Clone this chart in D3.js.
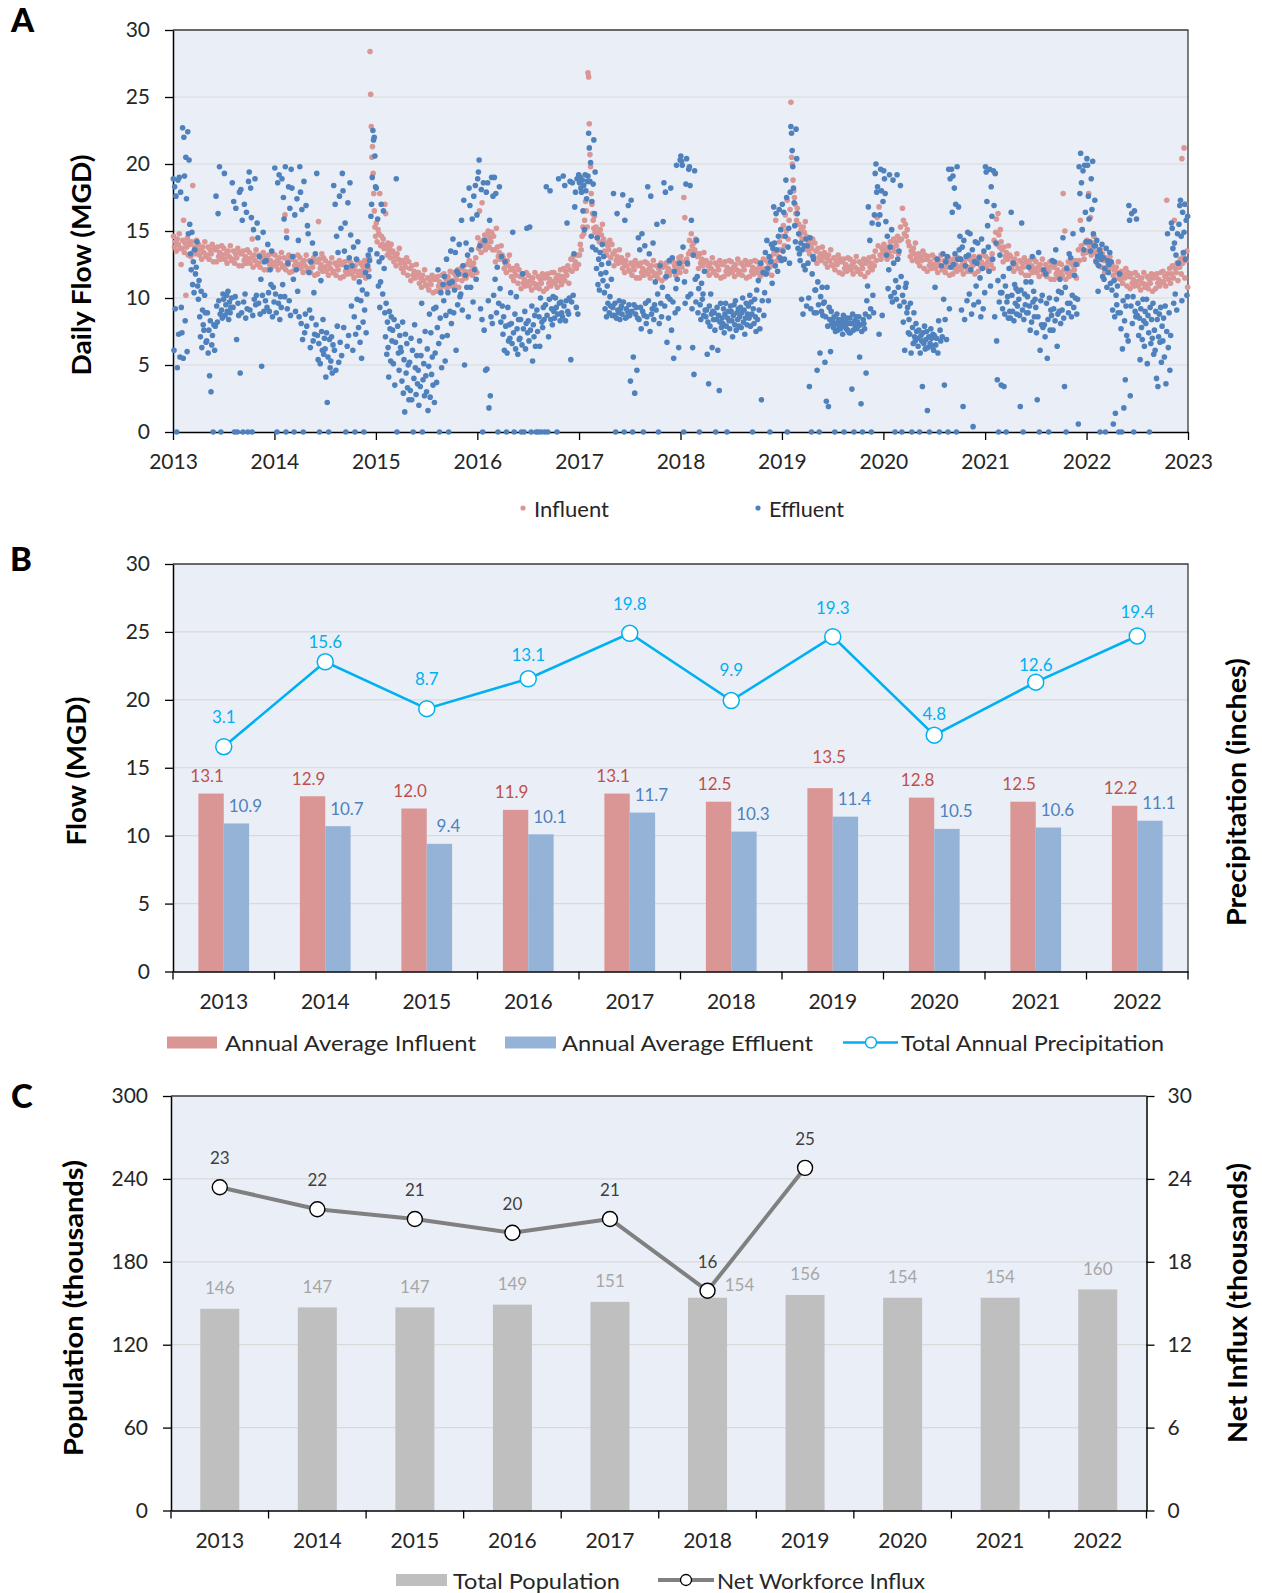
<!DOCTYPE html>
<html>
<head>
<meta charset="utf-8">
<script src="https://cdn.jsdelivr.net/npm/d3@7"></script>
<style>
  body { margin: 0; background: #fff; }
  svg { display: block; }
</style>
</head>
<body>
<svg id="chart" width="1262" height="1593"></svg>
<script>
// ---------------------------------------------------------------
// Data
// ---------------------------------------------------------------
const years = [2013, 2014, 2015, 2016, 2017, 2018, 2019, 2020, 2021, 2022];
const dailyTickYears = [2013, 2014, 2015, 2016, 2017, 2018, 2019, 2020, 2021, 2022, 2023];
const flowTicks = [0, 5, 10, 15, 20, 25, 30];
const populationTicks = [0, 60, 120, 180, 240, 300];
const influxTicks = [0, 6, 12, 18, 24, 30];

// Annual averages (MGD) and total precipitation (inches)
const influentAvg = [13.1, 12.9, 12.0, 11.9, 13.1, 12.5, 13.5, 12.8, 12.5, 12.2];
const effluentAvg = [10.9, 10.7, 9.4, 10.1, 11.7, 10.3, 11.4, 10.5, 10.6, 11.1];
const precipitation = [3.1, 15.6, 8.7, 13.1, 19.8, 9.9, 19.3, 4.8, 12.6, 19.4];

// Population (thousands) and net workforce influx (thousands)
const population = [146, 147, 147, 149, 151, 154, 156, 154, 154, 160];
const workforceInflux = [23.4, 21.8, 21.1, 20.1, 21.1, 15.9, 24.8, null, null, null];

// Daily influent flow (MGD): one list of readings per month
const influent2013 = [
  [14.6,13.8,14.2,13.5,14.4,14.0,14.8,13.7,12.5],
  [13.7,14.3,15.8,13.4,14.1,10.2,13.8,14.5,13.2,14.2],
  [14.0,13.1,14.2,18.4,13.5,13.8,13.3,14.3,13.6],
  [14.0,13.2,13.6,12.9,13.8,13.4,14.2,13.1],
  [13.2,13.8,12.9,13.6,13.3,14.0,12.7,13.7],
  [13.6,12.7,13.8,13.1,13.4,12.9,13.9,13.2],
  [13.7,12.9,13.3,12.6,13.5,13.1,13.9,12.8],
  [12.9,13.5,12.6,13.3,13.0,13.7,12.4,13.4],
  [13.3,12.4,13.5,12.8,13.1,12.6,13.6,12.9],
  [13.4,12.6,13.0,14.4,12.3,13.2,12.8,13.6,12.5],
  [12.6,13.2,12.3,13.0,12.7,13.4,12.1,13.1],
  [13.0,12.1,13.2,12.5,12.8,12.3,13.3,12.6]];
const influent2014 = [
  [13.2,12.4,12.8,12.1,13.0,12.6,13.4,12.3],
  [12.4,13.0,16.2,12.1,15.0,12.8,12.5,13.2,11.9,12.9],
  [12.9,12.0,13.1,12.4,12.7,12.2,13.2,12.5],
  [13.0,12.2,12.6,11.9,12.8,12.4,13.2,12.1],
  [12.2,12.8,11.9,12.6,12.3,13.0,11.7,12.7],
  [12.7,11.8,15.7,12.9,12.2,12.5,13.3,12.0,13.0,12.3],
  [12.8,12.0,12.4,11.7,12.6,12.2,13.0,11.9],
  [12.0,12.6,11.7,12.4,12.1,12.8,11.5,12.5],
  [12.5,11.6,12.7,12.0,12.3,11.8,12.8,12.1],
  [12.6,11.8,12.2,11.5,12.4,12.0,12.8,11.7],
  [12.0,12.6,11.7,12.4,12.1,12.8,11.5,12.5],
  [12.4,12.9,12.1,13.0,28.4,25.2,22.8,20.5,21.3,19.3,17.8,16.5,15.3,14.6]];
const influent2015 = [
  [15.6,14.2,15.1,14.8,17.8,13.9,14.6,14.0,14.4,13.7],
  [17.0,16.3,13.9,13.2,14.1,13.5,13.8,13.0,14.0,13.4],
  [13.5,12.7,13.1,12.4,13.3,12.9,13.7,12.6],
  [12.2,12.8,11.9,12.6,12.3,13.0,11.7,12.7],
  [12.2,11.3,12.4,11.7,12.0,11.5,12.5,11.8],
  [11.9,11.1,11.5,10.8,11.7,11.3,12.1,11.0],
  [10.9,11.5,10.6,11.3,11.0,11.7,10.4,11.4],
  [11.4,10.5,11.6,10.9,11.2,10.7,11.7,11.0],
  [11.8,11.0,11.4,10.7,11.6,11.2,12.0,10.9],
  [11.3,11.9,11.0,11.7,11.4,12.1,10.8,11.8],
  [12.2,11.3,12.4,11.7,12.0,11.5,12.5,11.8],
  [12.8,12.0,12.4,11.7,12.6,12.2,13.0,11.9]];
const influent2016 = [
  [14.5,13.7,16.5,14.1,13.4,17.1,14.3,13.9,14.7,13.6],
  [14.1,14.7,15.0,13.8,14.5,14.2,14.9,13.6,14.6],
  [13.6,12.7,15.2,13.8,13.1,13.4,12.9,13.9,13.2],
  [13.0,12.2,12.6,11.9,12.8,12.4,13.2,12.1],
  [11.6,12.2,11.3,12.0,11.7,12.4,11.1,12.1],
  [11.6,10.7,11.8,11.1,11.4,10.9,11.9,11.2],
  [11.7,10.9,11.3,10.6,11.5,11.1,11.9,10.8],
  [11.0,11.6,10.7,11.4,11.1,11.8,10.5,11.5],
  [11.6,10.7,11.8,11.1,11.4,10.9,11.9,11.2],
  [11.9,11.1,11.5,10.8,11.7,11.3,12.1,11.0],
  [11.6,12.2,11.3,12.0,11.7,12.4,11.1,12.1],
  [12.9,12.0,13.1,12.4,12.7,12.2,13.2,12.5]];
const influent2017 = [
  [13.2,14.0,13.6,14.6,15.3,14.8,15.8,17.2,16.5,15.3],
  [26.8,26.5,23.0,20.7,19.8,17.8,17.0,16.3,15.8,15.2,16.1,14.9],
  [15.3,14.5,14.9,14.2,15.1,14.7,15.5,14.4],
  [13.5,14.1,13.2,13.9,13.6,14.3,13.0,14.0],
  [13.3,12.4,13.5,12.8,13.1,12.6,13.6,12.9],
  [13.0,12.2,12.6,11.9,12.8,12.4,13.2,12.1],
  [12.0,12.6,11.7,12.4,12.1,12.8,11.5,12.5],
  [12.4,11.5,12.6,11.9,12.2,11.7,12.7,12.0],
  [12.6,11.8,12.2,11.5,12.4,12.0,12.8,11.7],
  [11.8,12.4,11.5,12.2,11.9,12.6,11.3,12.3],
  [12.4,11.5,12.6,11.9,12.2,11.7,12.7,12.0],
  [12.8,12.0,12.4,11.7,12.6,12.2,13.0,11.9]];
const influent2018 = [
  [13.1,12.3,12.7,17.5,16.0,12.0,12.9,12.5,13.3],
  [14.3,13.5,14.8,13.9,13.2,14.1,13.6,14.4,13.3],
  [13.1,12.2,13.3,12.6,12.9,12.4,13.4,12.7],
  [12.8,12.0,12.4,11.7,12.6,12.2,13.0,11.9],
  [12.0,12.6,11.7,12.4,12.1,12.8,11.5,12.5],
  [12.5,11.6,12.7,12.0,12.3,11.8,12.8,12.1],
  [12.7,11.9,12.3,11.6,12.5,12.1,12.9,11.8],
  [12.0,12.6,11.7,12.4,12.1,12.8,11.5,12.5],
  [12.5,11.6,12.7,12.0,12.3,11.8,12.8,12.1],
  [12.7,11.9,12.3,11.6,12.5,12.1,12.9,11.8],
  [12.2,12.8,11.9,12.6,12.3,13.0,11.7,12.7],
  [13.3,12.4,15.8,13.5,12.8,13.1,14.2,13.6,12.9]];
const influent2019 = [
  [14.6,15.4,13.9,16.2,15.0,17.3,14.4,15.8,16.6],
  [24.6,20.5,20.0,18.8,18.0,17.5,17.0,16.3,15.8,16.7,15.5],
  [15.5,14.7,15.1,14.4,15.3,14.9,15.7,14.6],
  [13.6,14.2,13.3,14.0,13.7,14.4,13.1,14.1],
  [13.5,12.6,13.7,13.0,13.3,12.8,13.8,13.1],
  [13.4,12.6,13.0,12.3,13.2,12.8,13.6,12.5],
  [12.4,13.0,12.1,12.8,12.5,13.2,11.9,12.9],
  [12.7,11.8,12.9,12.2,12.5,12.0,13.0,12.3],
  [12.9,12.1,12.5,11.8,12.7,12.3,13.1,12.0],
  [12.1,12.7,11.8,12.5,12.2,12.9,11.6,12.6],
  [12.8,11.9,13.0,12.3,12.6,12.1,13.1,12.4],
  [13.5,12.8,16.0,13.9,16.8,13.2,12.9,13.7,13.4]];
const influent2020 = [
  [14.0,13.2,13.6,12.9,13.8,13.4,14.2,13.1],
  [13.8,14.4,13.5,14.2,13.9,14.6,13.3,14.3],
  [15.3,14.4,16.7,15.8,14.8,15.5,14.6,15.1,14.2],
  [13.9,13.1,13.5,12.8,13.7,13.3,14.1,13.0],
  [12.7,13.3,12.4,13.1,12.8,13.5,12.2,13.2],
  [12.9,12.0,13.1,12.4,12.7,12.2,13.2,12.5],
  [13.0,12.2,12.6,11.9,12.8,12.4,13.2,12.1],
  [12.2,12.8,11.9,12.6,12.3,13.0,11.7,12.7],
  [12.7,11.8,12.9,12.2,12.5,12.0,13.0,12.3],
  [12.9,12.1,12.5,11.8,12.7,12.3,13.1,12.0],
  [12.3,12.9,12.0,12.7,12.4,13.1,11.8,12.8],
  [12.9,12.0,13.1,12.4,12.7,12.2,13.2,12.5]];
const influent2021 = [
  [13.1,12.3,12.7,12.0,12.9,12.5,13.3,12.2],
  [14.3,19.3,14.9,15.9,14.0,16.3,14.7,13.8,15.1,14.2],
  [13.6,12.7,13.8,13.1,13.4,12.9,13.9,13.2],
  [13.1,12.3,12.7,12.0,12.9,12.5,13.3,12.2],
  [12.2,12.8,11.9,12.6,12.3,13.0,11.7,12.7],
  [12.6,11.7,12.8,12.1,12.4,11.9,12.9,12.2],
  [12.7,11.9,12.3,11.6,12.5,12.1,12.9,11.8],
  [11.9,12.5,11.6,12.3,12.0,12.7,11.4,12.4],
  [12.3,11.4,12.5,11.8,12.1,11.6,12.6,11.9],
  [12.5,11.7,17.8,12.1,15.0,11.4,12.3,11.9,12.7,11.6],
  [12.0,12.6,11.7,12.4,12.1,12.8,11.5,12.5],
  [13.6,12.8,15.8,13.9,15.1,13.3,12.9,14.1,13.4]];
const influent2022 = [
  [14.3,13.5,17.8,13.9,16.0,13.2,14.1,13.7,14.6,13.4],
  [12.8,13.4,12.5,13.2,12.9,13.6,12.3,13.3],
  [12.8,11.9,13.0,12.3,12.6,12.1,13.1,12.4],
  [12.5,11.7,12.1,11.4,12.3,11.9,12.7,11.6],
  [11.4,12.0,11.1,11.8,11.5,12.2,10.9,11.9],
  [11.6,10.7,11.8,11.1,11.4,10.9,11.9,11.2],
  [11.7,10.9,11.3,10.6,11.5,11.1,11.9,10.8],
  [11.0,11.6,10.7,11.4,11.1,11.8,10.5,11.5],
  [11.6,10.7,11.8,11.1,11.4,10.9,11.9,11.2],
  [12.0,11.2,11.6,10.9,17.3,11.8,11.4,12.2,11.1],
  [11.8,12.4,11.5,15.8,12.2,11.9,12.6,11.3,12.3],
  [12.3,12.9,11.8,20.4,12.6,13.2,21.2,11.5,17.0,12.8,13.5,10.8]];

// Daily effluent flow (MGD): one list of readings per month
const effluent2013 = [
  [18.9,6.1,18.3,9.2,17.6,0,4.8,18.8,7.3,19.0,5.6,17.9,9.3],
  [7.4,22.7,5.5,22.0,19.1,8.3,20.5,17.4,6.0,22.4,14.8,20.3],
  [15.5,13.3,12.1,14.9,11.0,12.7,10.4,13.6,11.8,12.3,14.2,10.9],
  [9.9,11.3,8.6,7.1,10.5,6.3,9.1,8.0,7.6,10.2,8.9,6.7],
  [6.8,8.9,5.9,7.6,4.2,8.3,3.0,6.5,7.2,0,8.0,6.1],
  [7.9,17.6,9.4,8.2,16.3,9.8,19.8,8.8,0,9.1,8.5,10.3],
  [9.9,19.3,8.7,9.5,10.2,9.0,10.5,8.4,9.7,8.9,9.3,10.0],
  [18.6,9.3,17.2,0,10.1,16.7,6.9,0,9.6,8.7,17.9,4.4],
  [18.1,8.9,15.8,0,9.7,17.0,10.3,8.5,16.4,9.2,0,18.7],
  [19.4,9.1,18.2,16.0,0,8.7,15.1,9.9,18.9,9.5,10.2,15.6],
  [14.5,9.6,13.1,8.8,11.4,4.9,10.2,14.9,9.0,12.7,9.8],
  [12.8,9.3,14.0,10.4,9.0,12.1,11.0,13.5,8.6,10.8,9.7]];
const effluent2014 = [
  [19.7,10.3,8.9,0,18.6,9.6,19.2,8.4,10.1,9.3,18.9,11.0],
  [17.5,15.9,10.1,19.8,0,14.5,9.2,12.6,18.3,9.8,16.7,8.7],
  [19.6,18.2,13.1,11.4,0,16.2,9.0,12.1,17.4,10.5,14.3,8.6],
  [19.8,17.9,8.1,16.6,6.9,0,18.7,7.4,8.8,16.9,7.9,15.4],
  [14.8,11.9,9.1,6.3,12.7,8.5,14.1,6.8,10.4,7.3,13.3,8.0],
  [19.3,7.2,5.4,6.6,0,5.1,11.3,7.5,6.1,8.4,5.8,7.0],
  [6.2,4.1,7.4,2.2,5.6,0,6.9,4.8,5.3,7.1,4.4,6.5],
  [18.4,6.1,17.0,4.6,14.6,7.9,13.4,5.2,17.6,6.7,15.2,5.7],
  [19.3,18.0,7.8,13.5,15.6,0,12.3,6.4,17.1,7.2,13.0,18.6],
  [14.7,9.4,12.4,6.1,13.8,8.6,0,7.3,12.9,9.9,14.2,7.8],
  [11.2,6.7,9.8,5.5,10.6,8.2,0,9.1,11.9,7.4,10.3],
  [12.4,13.2,11.6,12.8,13.6,16.1,17.0,19.0,22.5,21.8,22.0,20.6,18.3]];
const effluent2015 = [
  [18.2,13.3,15.9,10.9,12.7,9.3,11.2,17.0,13.0,10.3,16.5,12.2],
  [8.9,7.1,9.6,5.8,8.2,6.3,4.1,9.0,7.7,5.3,8.6,6.8],
  [7.6,5.1,8.4,3.5,6.7,18.9,0,7.9,5.9,4.6,7.2,6.3],
  [6.0,3.8,8.2,2.9,5.4,1.5,7.3,4.4,6.6,3.3,5.0,2.4],
  [5.2,3.1,7.0,2.4,6.1,0,4.0,8.0,4.8,2.8,5.7,3.6],
  [4.6,2.0,6.8,3.4,5.7,9.6,0,3.9,5.1,2.7,7.5,4.2],
  [3.0,6.2,1.6,4.9,8.8,2.6,7.4,4.3,5.6,3.5,9.2,2.2],
  [5.9,9.3,3.7,7.8,12.1,6.6,0,8.5,10.4,4.8,7.1,11.0],
  [9.8,11.6,5.3,8.7,12.9,7.2,10.4,0,11.1,9.0,13.5,8.1],
  [11.2,14.4,8.9,10.6,13.4,6.1,12.0,9.5,11.8,14.0,10.1],
  [10.3,15.8,9.1,12.4,17.3,5.0,11.7,14.1,10.8,13.2,8.6],
  [18.2,16.9,10.8,13.6,15.9,9.7,17.6,12.1,18.4,11.4,16.2]];
const effluent2016 = [
  [18.9,19.4,20.3,13.9,9.2,18.1,8.4,0,18.6,7.6,14.3,4.6],
  [17.9,4.7,18.6,9.8,1.8,15.8,2.7,8.6,19.0,8.1,17.6,10.2],
  [19.0,11.4,17.8,8.9,12.3,0,9.6,18.3,10.7,8.2,13.1,9.4],
  [7.3,8.6,6.1,12.7,7.9,0,5.9,9.3,6.8,8.0,7.0,10.4],
  [8.1,6.6,14.9,7.4,0,8.8,6.2,10.1,7.7,5.8,8.4,6.9],
  [7.0,8.4,0,6.5,11.8,7.7,0,9.0,6.2,8.1,15.2,7.4],
  [8.3,6.8,15.3,7.6,0,9.4,5.3,8.0,7.1,8.7,6.4,0],
  [9.1,7.5,0,8.6,6.4,10.0,0,8.2,7.8,9.3,8.4,0],
  [9.5,18.3,8.7,0,7.1,9.9,18.0,8.4,9.2,8.0,10.1],
  [9.0,8.5,10.0,9.3,0,8.8,18.9,9.6,8.3,9.7,8.9],
  [8.6,19.1,9.4,18.4,8.3,9.8,15.6,9.0,8.8,10.0,18.7],
  [5.4,9.7,18.6,10.2,13.3,16.8,17.9,9.3,18.9,8.8,19.2]];
const effluent2017 = [
  [18.6,19.0,18.2,17.9,18.8,16.5,18.4,15.1,19.2,18.0,17.4,18.7],
  [19.1,22.3,21.2,18.7,20.1,14.6,17.2,13.8,18.5,21.8,16.3,19.4],
  [13.6,12.2,14.5,11.0,12.9,10.6,13.4,11.8,12.5,14.0,11.3,13.1],
  [10.4,9.2,11.9,8.6,10.9,9.6,12.6,8.9,10.1,9.4,11.4,8.7],
  [9.3,17.8,8.7,9.6,0,8.5,16.3,9.1,8.9,9.8,8.4,9.2],
  [9.4,8.8,17.7,9.7,0,15.8,8.5,9.2,8.6,9.0,16.9,9.5],
  [8.7,3.8,17.3,9.0,0,5.6,9.5,2.9,8.8,9.3,4.6,8.5],
  [14.5,8.4,13.6,9.3,7.7,14.8,9.0,0,8.7,13.9,9.6,8.1],
  [8.6,18.3,9.8,13.3,7.5,17.6,8.8,9.2,14.1,8.4,9.5],
  [11.2,9.1,15.5,10.3,0,8.1,12.4,9.6,8.6,10.8,15.7],
  [18.6,9.4,17.9,11.6,6.7,10.1,8.5,12.8,9.9,18.2,7.6],
  [13.0,9.7,5.5,12.0,8.9,10.7,19.9,11.4,9.2,6.3,12.6,20.3]];
const effluent2018 = [
  [20.6,20.2,19.9,13.8,0,11.2,9.6,18.5,20.4,12.6,10.1,19.6],
  [19.8,18.4,10.3,15.8,9.2,6.3,13.2,4.3,19.5,11.4,9.7,14.3],
  [11.6,8.9,10.7,0,9.5,8.4,11.1,9.9,10.3,8.7,12.0,9.1],
  [8.6,9.1,5.8,8.2,3.6,9.4,7.9,10.3,8.8,6.3,9.0,8.4],
  [8.9,7.6,0,8.4,9.3,6.1,8.7,3.1,8.2,9.6,7.8,8.5],
  [8.1,9.2,7.4,8.8,9.6,7.9,0,8.5,9.0,8.3,7.7,9.4],
  [9.0,8.3,7.1,8.7,9.5,8.0,9.8,7.6,8.9,8.4,9.2,7.9],
  [8.6,9.3,7.8,8.9,10.0,8.2,9.1,7.3,8.5,9.6,8.0,8.8],
  [9.4,8.5,10.2,7.9,9.7,8.8,0,9.2,8.1,9.9,8.6,7.5],
  [10.6,8.4,11.3,9.1,7.7,12.6,2.4,9.8,11.9,8.7,10.4],
  [13.4,11.8,14.3,12.2,9.8,13.1,0,12.7,14.0,11.1,13.7],
  [16.8,14.1,12.4,16.3,13.6,12.0,14.6,16.6,13.0,15.1,12.8]];
const effluent2019 = [
  [17.0,13.5,16.4,12.9,14.6,18.8,17.5,0,13.8,15.2,12.6,17.9],
  [22.8,22.3,21.0,19.8,18.2,17.1,15.4,14.2,22.6,20.4,16.3,13.7],
  [14.8,13.3,12.8,14.1,9.9,13.6,8.8,12.4,13.9,12.1,14.4,9.4],
  [13.9,12.6,10.0,3.4,14.5,9.2,0,11.8,13.1,12.9,8.9,10.6],
  [10.6,8.9,4.6,11.2,9.5,0,5.9,10.1,9.0,10.8,8.7,9.6],
  [9.7,5.2,8.6,2.3,10.8,7.9,1.9,9.3,8.4,6.0,9.0,8.1],
  [8.3,7.8,8.6,0,7.5,8.1,8.8,7.6,8.4,7.9,8.2,7.7],
  [8.0,8.4,7.3,8.7,0,7.9,8.2,7.7,8.5,7.6,8.1,7.4],
  [8.5,7.4,8.1,3.2,8.8,7.6,0,8.3,7.9,8.6,7.7,8.2],
  [7.9,8.6,5.6,8.0,2.1,7.5,0,8.4,8.1,7.7,8.8,4.4],
  [9.8,10.9,16.8,8.6,14.3,9.2,0,15.6,10.2,8.9,16.2],
  [19.3,20.0,17.9,18.3,15.5,7.3,16.2,19.6,18.0,8.7,17.2]];
const effluent2020 = [
  [19.5,18.9,17.8,15.7,13.2,14.6,10.7,12.1,19.2,13.8,10.1,15.1],
  [9.7,18.8,12.6,10.4,0,11.3,9.9,19.2,12.9,10.8,13.5,9.4],
  [18.4,11.6,0,10.2,8.2,9.7,6.1,10.8,11.1,8.9,9.3,7.4],
  [8.4,7.3,9.6,5.9,0,7.8,6.6,8.9,7.1,6.8,8.1,7.5],
  [7.0,6.4,7.6,0,5.9,7.2,6.8,3.4,7.4,6.6,7.9,6.2],
  [6.9,7.5,1.6,6.3,7.1,0,6.6,7.7,7.0,6.4,7.3,6.1],
  [7.2,10.8,6.5,7.0,12.9,5.9,8.3,0,7.6,6.8,12.4,7.1],
  [13.3,9.9,3.5,8.4,12.7,6.9,13.1,0,19.6,9.2,18.9,12.3],
  [19.6,16.4,19.1,12.5,18.2,13.3,17.0,0,19.8,12.9,16.8,13.6],
  [14.6,12.9,9.1,13.8,1.9,14.3,8.4,12.4,13.1,9.8,14.9],
  [13.2,10.3,14.8,12.1,8.8,13.6,0.4,9.5,12.7,14.2,10.9],
  [12.6,14.1,9.7,13.0,11.5,8.6,14.4,12.2,9.2,13.5,10.4]];
const effluent2021 = [
  [19.8,19.4,17.2,15.4,13.8,12.0,19.6,10.9,18.3,16.1,12.9,19.5],
  [16.9,8.6,19.3,14.1,6.8,3.9,11.3,0,9.7,13.2,10.4,3.5],
  [10.4,9.2,11.6,3.4,8.8,10.9,0,9.7,10.1,8.5,12.2,9.0],
  [8.5,16.4,10.2,9.0,12.6,8.3,11.0,9.6,10.7,8.8,9.4,10.5],
  [9.9,8.7,1.9,10.6,15.6,9.1,0,8.4,10.3,9.5,11.2,8.9],
  [10.1,8.9,12.3,9.4,7.6,11.2,8.2,13.1,9.7,10.5,8.6,9.9],
  [9.3,7.4,2.4,8.6,13.4,0,6.1,9.8,8.0,10.2,7.8,12.1],
  [8.0,7.1,11.8,9.6,5.5,8.4,0,10.0,7.6,9.1,8.7,12.8],
  [7.6,9.2,12.7,8.3,13.6,9.9,6.4,8.8,10.5,9.0,11.4,8.1],
  [10.4,9.1,14.5,8.5,3.4,10.8,0,12.2,9.6,8.9,13.3],
  [9.6,13.0,8.6,10.2,14.8,9.3,11.7,10.0,12.5,8.8,9.9],
  [0.6,19.8,17.8,20.8,18.6,15.1,19.5,13.6,19.9,16.4,14.2]];
const effluent2022 = [
  [20.4,19.9,17.6,15.9,14.2,13.5,18.9,16.6,20.2,14.8,13.9,17.3],
  [13.9,12.7,14.3,13.1,10.5,12.4,13.6,0,13.3,12.9,14.0,11.6],
  [13.0,11.4,12.2,0,13.7,10.8,12.8,11.9,12.5,13.4,11.1,12.7],
  [10.6,9.1,0.6,11.3,8.6,1.4,10.2,9.5,10.9,8.9,0,11.8],
  [8.9,7.7,0,6.2,9.8,1.8,8.3,3.9,9.4,7.2,10.1,6.8],
  [16.9,15.8,2.7,9.4,16.3,8.1,10.1,0,16.5,9.0,8.6,15.9],
  [8.7,9.6,7.2,8.5,5.4,9.2,7.8,6.9,9.9,8.3,6.4,9.0],
  [8.1,9.9,5.1,8.7,7.4,0,9.3,6.6,8.4,7.0,9.6,5.8],
  [7.6,6.1,9.0,4.0,8.4,3.4,7.1,8.8,6.7,9.3,5.2,7.9],
  [6.8,8.5,5.6,9.4,3.6,7.5,14.8,6.3,8.9,4.6,7.2],
  [15.6,15.2,13.7,9.6,14.1,10.3,13.2,9.1,14.8,12.6,15.5],
  [16.9,17.3,14.6,9.8,16.4,13.4,14.9,17.0,12.9,15.8,10.2,16.1]];

// ---------------------------------------------------------------
// Styling constants
// ---------------------------------------------------------------
const FONT = "Lato, 'Open Sans', sans-serif";
const BG = "#EAEFF7";
const GRID = "#D9D9D9";
const FRAME = "#3a3a3a";
const C_INF = "#DA9694";
const C_EFF_DOT = "#4F81BD";
const C_EFF_BAR = "#95B3D7";
const C_INF_LBL = "#C0504D";
const C_EFF_LBL = "#4F81BD";
const C_PRECIP = "#00B0F0";
const C_POP = "#BFBFBF";
const C_INFLUX = "#808080";

const svg = d3.select("#chart");

function styleAxis(g, size) {
  g.select(".domain").attr("stroke", "#000").attr("stroke-width", 1.5);
  g.selectAll(".tick line").attr("stroke", "#000").attr("stroke-width", 1.3);
  g.selectAll(".tick text")
    .attr("font-family", FONT).attr("font-size", size).attr("fill", "#262626");
}

function panelLetter(txt, x, y) {
  svg.append("text").attr("x", x).attr("y", y)
    .attr("font-family", FONT).attr("font-weight", 900).attr("font-size", 33)
    .attr("fill", "#000").text(txt);
}

function vTitle(txt, x, y, len) {
  svg.append("text")
    .attr("transform", `translate(${x},${y}) rotate(-90)`)
    .attr("text-anchor", "middle").attr("dominant-baseline", "central")
    .attr("font-family", FONT).attr("font-weight", 700).attr("font-size", 26)
    .attr("textLength", len).attr("lengthAdjust", "spacingAndGlyphs")
    .attr("fill", "#000").text(txt);
}

function legendText(txt, x, y, len) {
  svg.append("text").attr("x", x).attr("y", y)
    .attr("dominant-baseline", "central")
    .attr("font-family", FONT).attr("font-size", 21).attr("fill", "#262626")
    .attr("textLength", len).attr("lengthAdjust", "spacingAndGlyphs")
    .text(txt);
}

function plotFrame(g, x0, x1, top, bottom) {
  g.append("rect").attr("x", x0).attr("y", top)
    .attr("width", x1 - x0).attr("height", bottom - top).attr("fill", BG);
}

function gridLines(g, values, y, x0, x1) {
  g.append("g").selectAll("line").data(values).join("line")
    .attr("x1", x0).attr("x2", x1)
    .attr("y1", d => y(d)).attr("y2", d => y(d))
    .attr("stroke", GRID).attr("stroke-width", 1.2);
}

// Spread each month's readings evenly through that month
function dailySeries(pairs) {
  const pts = [];
  pairs.forEach(([yr, months]) => {
    months.forEach((vals, m) => {
      const start = new Date(yr, m, 1).getTime();
      const end = new Date(yr, m + 1, 1).getTime();
      const step = (end - start) / vals.length;
      vals.forEach((v, i) => pts.push({ date: new Date(start + (i + 0.5) * step), v }));
    });
  });
  return pts;
}

// ---------------------------------------------------------------
// Panel A: daily influent / effluent flow
// ---------------------------------------------------------------
const A = { x0: 173, x1: 1188, top: 30, bottom: 432 };
const xA = d3.scaleTime()
  .domain([new Date(2013, 0, 1), new Date(2023, 0, 1)])
  .range([A.x0, A.x1]);
const yA = d3.scaleLinear().domain([0, 30]).range([A.bottom, A.top]);

const influentDaily = dailySeries([
  [2013, influent2013], [2014, influent2014], [2015, influent2015], [2016, influent2016],
  [2017, influent2017], [2018, influent2018], [2019, influent2019], [2020, influent2020],
  [2021, influent2021], [2022, influent2022]
]);
const effluentDaily = dailySeries([
  [2013, effluent2013], [2014, effluent2014], [2015, effluent2015], [2016, effluent2016],
  [2017, effluent2017], [2018, effluent2018], [2019, effluent2019], [2020, effluent2020],
  [2021, effluent2021], [2022, effluent2022]
]);

const gA = svg.append("g");
plotFrame(gA, A.x0, A.x1, A.top, A.bottom);
gridLines(gA, [5, 10, 15, 20, 25], yA, A.x0, A.x1);
gA.append("path").attr("d", `M${A.x0},${A.top}H${A.x1}V${A.bottom}`)
  .attr("fill", "none").attr("stroke", FRAME).attr("stroke-width", 1.3);

const axAy = gA.append("g").attr("transform", `translate(${A.x0},0)`)
  .call(d3.axisLeft(yA).tickValues(flowTicks).tickSize(8).tickSizeOuter(0).tickPadding(15));
styleAxis(axAy, 21);
const axAx = gA.append("g").attr("transform", `translate(0,${A.bottom})`)
  .call(d3.axisBottom(xA).tickValues(dailyTickYears.map(y => new Date(y, 0, 1)))
    .tickSize(8).tickSizeOuter(0).tickFormat(d3.timeFormat("%Y")));
styleAxis(axAx, 21);
axAx.selectAll(".tick text").attr("y", 30).attr("dy", "0.35em");

gA.append("g").selectAll("circle").data(influentDaily).join("circle")
  .attr("cx", d => xA(d.date)).attr("cy", d => yA(d.v)).attr("r", 2.8)
  .attr("fill", C_INF);
gA.append("g").selectAll("circle").data(effluentDaily).join("circle")
  .attr("cx", d => xA(d.date)).attr("cy", d => yA(d.v)).attr("r", 2.8)
  .attr("fill", C_EFF_DOT);

// Legend A
svg.append("circle").attr("cx", 523).attr("cy", 508).attr("r", 2.6).attr("fill", C_INF);
legendText("Influent", 534, 508, 75);
svg.append("circle").attr("cx", 758).attr("cy", 508).attr("r", 2.6).attr("fill", C_EFF_DOT);
legendText("Effluent", 769, 508, 75);

panelLetter("A", 11, 32);
vTitle("Daily Flow (MGD)", 81, 265, 221);

// ---------------------------------------------------------------
// Panel B: annual averages and precipitation
// ---------------------------------------------------------------
const B = { x0: 173, x1: 1188, top: 564, bottom: 971.5 };
const xB = d3.scaleBand().domain(years).range([B.x0, B.x1]).paddingInner(0).paddingOuter(0);
const yB = d3.scaleLinear().domain([0, 30]).range([B.bottom, B.top]);
const yPrecip = d3.scaleLinear().domain([-30, 30]).range([B.bottom, B.top]);
const bwB = xB.bandwidth();

const gB = svg.append("g");
plotFrame(gB, B.x0, B.x1, B.top, B.bottom);
gridLines(gB, [5, 10, 15, 20, 25], yB, B.x0, B.x1);
gB.append("path").attr("d", `M${B.x0},${B.top}H${B.x1}V${B.bottom}`)
  .attr("fill", "none").attr("stroke", FRAME).attr("stroke-width", 1.3);

const rowsB = years.map((yr, i) => ({
  yr, inf: influentAvg[i], eff: effluentAvg[i], p: precipitation[i]
}));

gB.append("g").selectAll("rect").data(rowsB).join("rect")
  .attr("x", d => xB(d.yr) + bwB * 0.25).attr("width", bwB * 0.25)
  .attr("y", d => yB(d.inf)).attr("height", d => yB(0) - yB(d.inf))
  .attr("fill", C_INF);
gB.append("g").selectAll("rect").data(rowsB).join("rect")
  .attr("x", d => xB(d.yr) + bwB * 0.5).attr("width", bwB * 0.25)
  .attr("y", d => yB(d.eff)).attr("height", d => yB(0) - yB(d.eff))
  .attr("fill", C_EFF_BAR);

const axBy = gB.append("g").attr("transform", `translate(${B.x0},0)`)
  .call(d3.axisLeft(yB).tickValues(flowTicks).tickSize(8).tickSizeOuter(0).tickPadding(15));
styleAxis(axBy, 21);
const axBx = gB.append("g").attr("transform", `translate(0,${B.bottom})`)
  .call(d3.axisBottom(xB).tickSize(0).tickSizeOuter(0));
styleAxis(axBx, 21);
axBx.selectAll(".tick text").attr("y", 30.5).attr("dy", "0.35em");
gB.append("g").selectAll("line").data(d3.range(years.length + 1)).join("line")
  .attr("x1", i => B.x0 + i * xB.step()).attr("x2", i => B.x0 + i * xB.step())
  .attr("y1", B.bottom).attr("y2", B.bottom + 8)
  .attr("stroke", "#000").attr("stroke-width", 1.3);

// Bar value labels
const fmt1 = d3.format(".1f");
const infLabelNudge = { 2019: { dx: 13, dy: -14 } };
gB.append("g").selectAll("text").data(rowsB).join("text")
  .attr("x", d => xB(d.yr) + bwB * 0.375 - 4 + (infLabelNudge[d.yr] ? infLabelNudge[d.yr].dx : 0))
  .attr("y", d => yB(d.inf) - 18 + (infLabelNudge[d.yr] ? infLabelNudge[d.yr].dy : 0))
  .attr("text-anchor", "middle").attr("dominant-baseline", "central")
  .attr("font-family", FONT).attr("font-size", 17).attr("fill", C_INF_LBL)
  .text(d => fmt1(d.inf));
gB.append("g").selectAll("text").data(rowsB).join("text")
  .attr("x", d => xB(d.yr) + bwB * 0.625 + 9)
  .attr("y", d => yB(d.eff) - 18)
  .attr("text-anchor", "middle").attr("dominant-baseline", "central")
  .attr("font-family", FONT).attr("font-size", 17).attr("fill", C_EFF_LBL)
  .text(d => fmt1(d.eff));

// Precipitation line on its own (unlabelled) secondary scale
const precipLabelDy = [-30, -20, -30, -24, -30, -31, -29, -22, -18, -24];
const cxB = d => xB(d.yr) + bwB / 2;
gB.append("path").datum(rowsB)
  .attr("d", d3.line().x(cxB).y(d => yPrecip(d.p)))
  .attr("fill", "none").attr("stroke", C_PRECIP).attr("stroke-width", 2.6);
gB.append("g").selectAll("circle").data(rowsB).join("circle")
  .attr("cx", cxB).attr("cy", d => yPrecip(d.p)).attr("r", 8)
  .attr("fill", "#fff").attr("stroke", C_PRECIP).attr("stroke-width", 1.5);
gB.append("g").selectAll("text").data(rowsB).join("text")
  .attr("x", cxB).attr("y", (d, i) => yPrecip(d.p) + precipLabelDy[i])
  .attr("text-anchor", "middle").attr("dominant-baseline", "central")
  .attr("font-family", FONT).attr("font-size", 17).attr("fill", C_PRECIP)
  .text(d => fmt1(d.p));

// Legend B
svg.append("rect").attr("x", 167).attr("y", 1036.5).attr("width", 50).attr("height", 12).attr("fill", C_INF);
legendText("Annual Average Influent", 225, 1042.5, 251);
svg.append("rect").attr("x", 505).attr("y", 1036.5).attr("width", 51).attr("height", 12).attr("fill", C_EFF_BAR);
legendText("Annual Average Effluent", 562, 1042.5, 251);
svg.append("line").attr("x1", 843).attr("x2", 898).attr("y1", 1042.5).attr("y2", 1042.5)
  .attr("stroke", C_PRECIP).attr("stroke-width", 2.6);
svg.append("circle").attr("cx", 871).attr("cy", 1042.5).attr("r", 5.5)
  .attr("fill", "#fff").attr("stroke", C_PRECIP).attr("stroke-width", 1.4);
legendText("Total Annual Precipitation", 901, 1042.5, 263);

panelLetter("B", 10, 571);
vTitle("Flow (MGD)", 76, 771, 149);
vTitle("Precipitation (inches)", 1236, 792, 268);

// ---------------------------------------------------------------
// Panel C: population and net workforce influx
// ---------------------------------------------------------------
const C = { x0: 171, x1: 1146.5, top: 1096, bottom: 1510.5 };
const xC = d3.scaleBand().domain(years).range([C.x0, C.x1]).paddingInner(0).paddingOuter(0);
const yC = d3.scaleLinear().domain([0, 300]).range([C.bottom, C.top]);
const yInflux = d3.scaleLinear().domain([0, 30]).range([C.bottom, C.top]);
const bwC = xC.bandwidth();

const gC = svg.append("g");
plotFrame(gC, C.x0, C.x1, C.top, C.bottom);
gridLines(gC, [60, 120, 180, 240], yC, C.x0, C.x1);
gC.append("path").attr("d", `M${C.x0},${C.top}H${C.x1}`)
  .attr("fill", "none").attr("stroke", FRAME).attr("stroke-width", 1.3);

const rowsC = years.map((yr, i) => ({ yr, pop: population[i], inf: workforceInflux[i] }));

gC.append("g").selectAll("rect").data(rowsC).join("rect")
  .attr("x", d => xC(d.yr) + bwC * 0.3).attr("width", bwC * 0.4)
  .attr("y", d => yC(d.pop)).attr("height", d => yC(0) - yC(d.pop))
  .attr("fill", C_POP);

const axCy = gC.append("g").attr("transform", `translate(${C.x0},0)`)
  .call(d3.axisLeft(yC).tickValues(populationTicks).tickSize(8).tickSizeOuter(0).tickPadding(15));
styleAxis(axCy, 21);
const axCy2 = gC.append("g").attr("transform", `translate(${C.x1},0)`)
  .call(d3.axisRight(yInflux).tickValues(influxTicks).tickSize(8).tickSizeOuter(0).tickPadding(13));
styleAxis(axCy2, 21);
const axCx = gC.append("g").attr("transform", `translate(0,${C.bottom})`)
  .call(d3.axisBottom(xC).tickSize(0).tickSizeOuter(0));
styleAxis(axCx, 21);
axCx.selectAll(".tick text").attr("y", 30.5).attr("dy", "0.35em");
gC.append("g").selectAll("line").data(d3.range(years.length + 1)).join("line")
  .attr("x1", i => C.x0 + i * xC.step()).attr("x2", i => C.x0 + i * xC.step())
  .attr("y1", C.bottom).attr("y2", C.bottom + 8)
  .attr("stroke", "#000").attr("stroke-width", 1.3);

// Population labels
const popLabelNudge = { 2018: { dx: 32, dy: 8 } };
gC.append("g").selectAll("text").data(rowsC).join("text")
  .attr("x", d => xC(d.yr) + bwC / 2 + (popLabelNudge[d.yr] ? popLabelNudge[d.yr].dx : 0))
  .attr("y", d => yC(d.pop) - 21 + (popLabelNudge[d.yr] ? popLabelNudge[d.yr].dy : 0))
  .attr("text-anchor", "middle").attr("dominant-baseline", "central")
  .attr("font-family", FONT).attr("font-size", 17).attr("fill", "#A6A6A6")
  .text(d => d3.format("d")(d.pop));

// Net workforce influx line
const influxRows = rowsC.filter(d => d.inf != null);
const cxC = d => xC(d.yr) + bwC / 2;
gC.append("path").datum(influxRows)
  .attr("d", d3.line().x(cxC).y(d => yInflux(d.inf)))
  .attr("fill", "none").attr("stroke", C_INFLUX).attr("stroke-width", 4)
  .attr("stroke-linejoin", "round");
gC.append("g").selectAll("circle").data(influxRows).join("circle")
  .attr("cx", cxC).attr("cy", d => yInflux(d.inf)).attr("r", 7.5)
  .attr("fill", "#fff").attr("stroke", "#000").attr("stroke-width", 1.4);
gC.append("g").selectAll("text").data(influxRows).join("text")
  .attr("x", cxC).attr("y", d => yInflux(d.inf) - 29.5)
  .attr("text-anchor", "middle").attr("dominant-baseline", "central")
  .attr("font-family", FONT).attr("font-size", 17).attr("fill", "#404040")
  .text(d => d3.format(".0f")(d.inf));

// Legend C
svg.append("rect").attr("x", 396).attr("y", 1574).attr("width", 51).attr("height", 12).attr("fill", C_POP);
legendText("Total Population", 453, 1580, 167);
svg.append("line").attr("x1", 658).attr("x2", 714).attr("y1", 1580).attr("y2", 1580)
  .attr("stroke", C_INFLUX).attr("stroke-width", 4);
svg.append("circle").attr("cx", 686).attr("cy", 1580).attr("r", 5.5)
  .attr("fill", "#fff").attr("stroke", "#000").attr("stroke-width", 1.3);
legendText("Net Workforce Influx", 717, 1580, 208);

panelLetter("C", 11, 1108);
vTitle("Population (thousands)", 73, 1308, 296);
vTitle("Net Influx (thousands)", 1237, 1303, 280);
</script>
</body>
</html>
